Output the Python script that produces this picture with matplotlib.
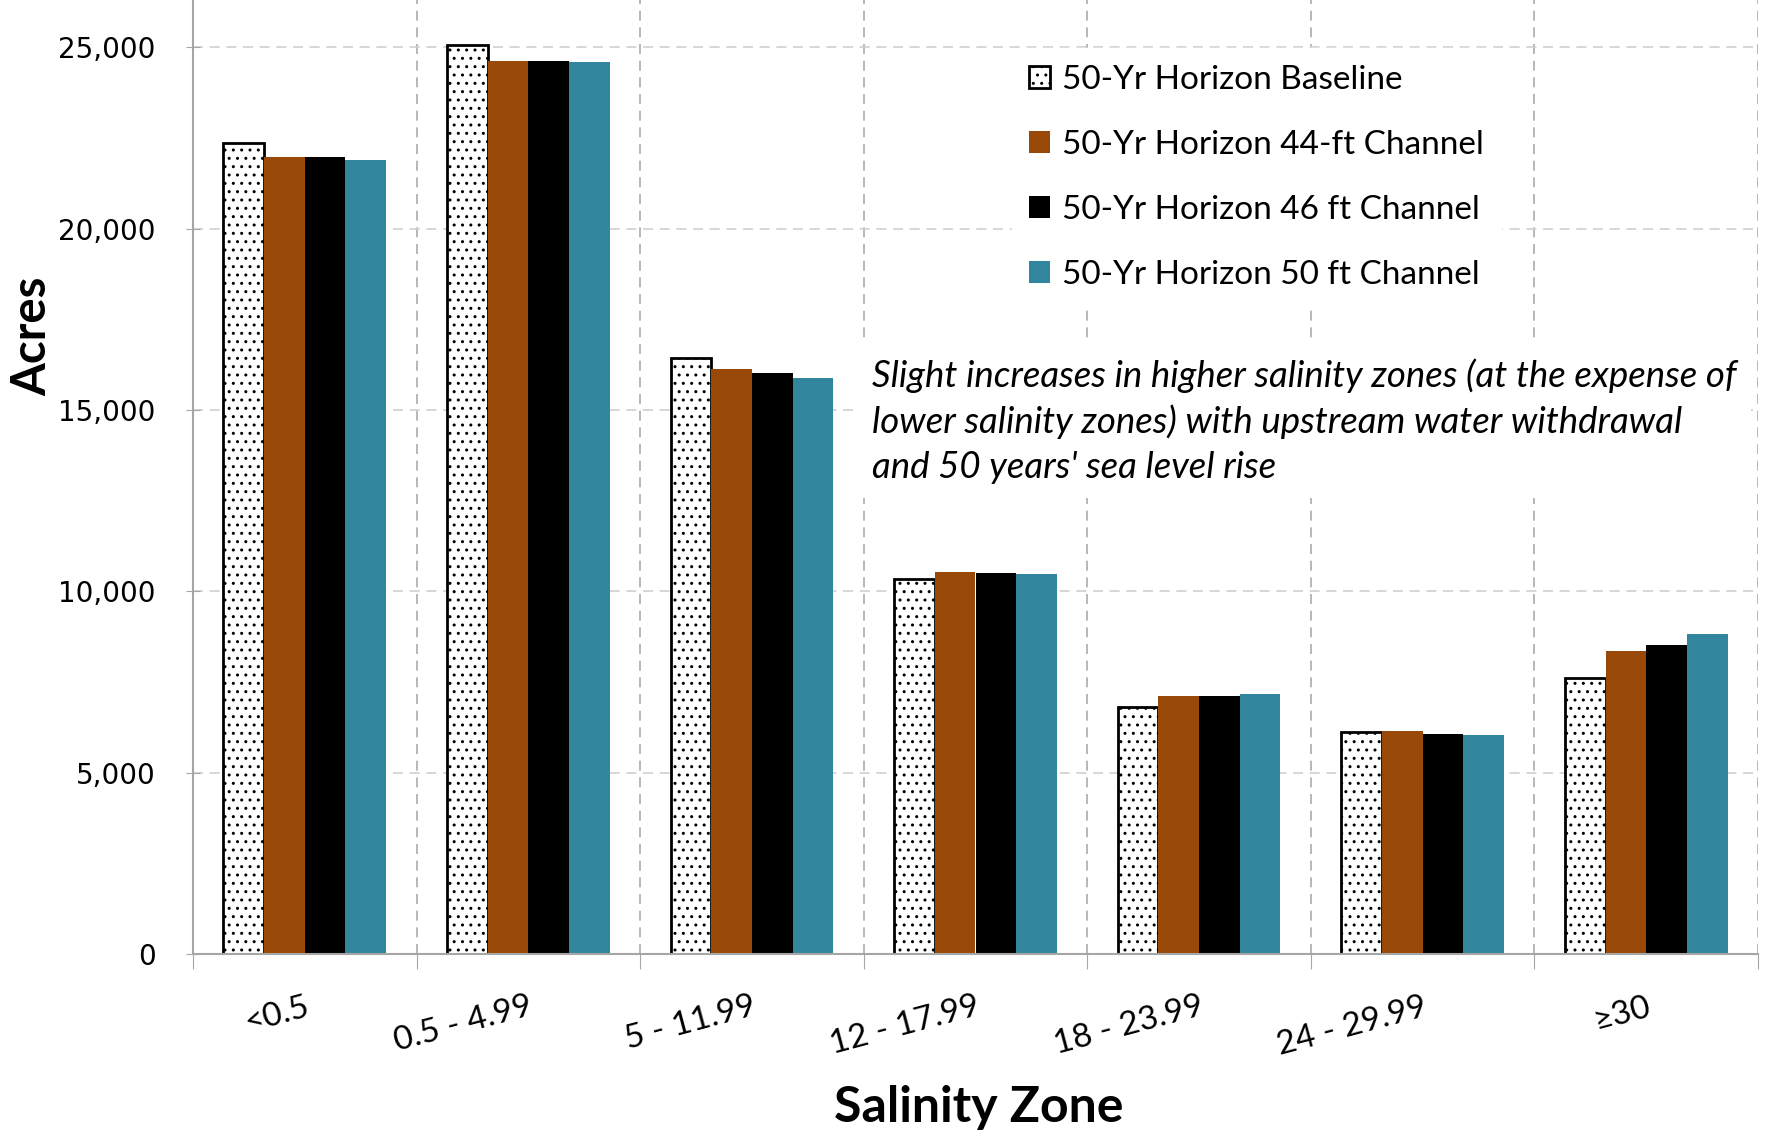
import matplotlib.pyplot as plt
import numpy as np
from matplotlib.ticker import FuncFormatter

# acreage by salinity zone for each 50-year scenario
zones = ['<0.5', '0.5 - 4.99', '5 - 11.99', '12 - 17.99', '18 - 23.99', '24 - 29.99', '\u226530']
baseline = [22370, 25060, 16420, 10350, 6820, 6120, 7600]
channel_44 = [21960, 24610, 16140, 10540, 7120, 6140, 8360]
channel_46 = [21960, 24610, 16010, 10510, 7120, 6060, 8530]
channel_50 = [21900, 24580, 15890, 10480, 7160, 6030, 8830]

plt.rcParams['font.family'] = ['Lato', 'DejaVu Sans']
plt.rcParams['hatch.linewidth'] = 1.0

W, H = 1768, 1139
fig = plt.figure(figsize=(W / 100, H / 100), dpi=100)
ax = fig.add_axes([193 / W, 1 - 954 / H, (1758 - 193) / W, 954 / H])

x = np.arange(len(zones))
w = 0.182
ax.bar(x - 1.5 * w, baseline, w, facecolor='white', edgecolor='black',
       hatch='..', linewidth=2, label='50-Yr Horizon Baseline', zorder=2)
ax.bar(x - 0.5 * w, channel_44, w, color='#984807', linewidth=0,
       label='50-Yr Horizon 44-ft Channel', zorder=2)
ax.bar(x + 0.5 * w, channel_46, w, color='black', linewidth=0,
       label='50-Yr Horizon 46 ft Channel', zorder=2)
ax.bar(x + 1.5 * w, channel_50, w, color='#31859C', linewidth=0,
       label='50-Yr Horizon 50 ft Channel', zorder=2)

ax.set_xlim(-0.5, 6.5)
ax.set_ylim(0, 26300)
ax.set_yticks(range(0, 25001, 5000))
ax.yaxis.set_major_formatter(FuncFormatter(lambda v, p: f'{v:,.0f}'))
ax.tick_params(axis='y', labelsize=20, length=10, direction='inout',
               color='#A6A6A6', pad=22)
for t in ax.get_yticklabels():
    t.set_fontfamily('DejaVu Sans')

# boundaries between zones carry the ticks, zone centres carry the labels
ax.set_xticks(np.arange(-0.5, 7, 1))
ax.set_xticks(x, minor=True)
ax.set_xticklabels(zones, minor=True, rotation=15, ha='right', va='top',
                   rotation_mode='anchor', fontsize=24)
ax.tick_params(axis='x', which='major', length=11, direction='out',
               color='#A6A6A6', labelbottom=False)
ax.tick_params(axis='x', which='minor', length=0, pad=27)

ax.set_axisbelow(True)
ax.yaxis.grid(True, linestyle=(0, (6, 4)), color='#CFCFCF', linewidth=1.2)
ax.xaxis.grid(True, which='major', linestyle=(0, (6, 4)), color='#ABABAB', linewidth=1.2)
for s in ['top', 'right']:
    ax.spines[s].set_visible(False)
for s in ['left', 'bottom']:
    ax.spines[s].set_color('#A6A6A6')
    ax.spines[s].set_linewidth(1.5)

leg = ax.legend(loc='upper left', bbox_to_anchor=(1012 / W, 1 - 48 / H),
                bbox_transform=fig.transFigure, fontsize=24, frameon=True,
                facecolor='white', edgecolor='white', framealpha=1,
                handlelength=0.65, handleheight=0.65, handletextpad=0.35,
                labelspacing=1.05, borderpad=0.5, borderaxespad=0)

ax.text(872 / W, 1 - 358 / H,
        "Slight increases in higher salinity zones (at the expense of\n"
        "lower salinity zones) with upstream water withdrawal\n"
        "and 50 years' sea level rise",
        transform=fig.transFigure, fontsize=26.4, fontstyle='italic',
        va='top', ha='left', linespacing=1.42,
        bbox=dict(facecolor='white', edgecolor='none', pad=10))

fig.text(979 / W, 1 - 1107 / H, 'Salinity Zone', fontsize=36,
         fontweight='bold', ha='center', va='center')
fig.text(32 / W, 1 - 336 / H, 'Acres', fontsize=34, fontweight='bold',
         rotation=90, ha='center', va='center')

fig.savefig('out.png', dpi=100)
